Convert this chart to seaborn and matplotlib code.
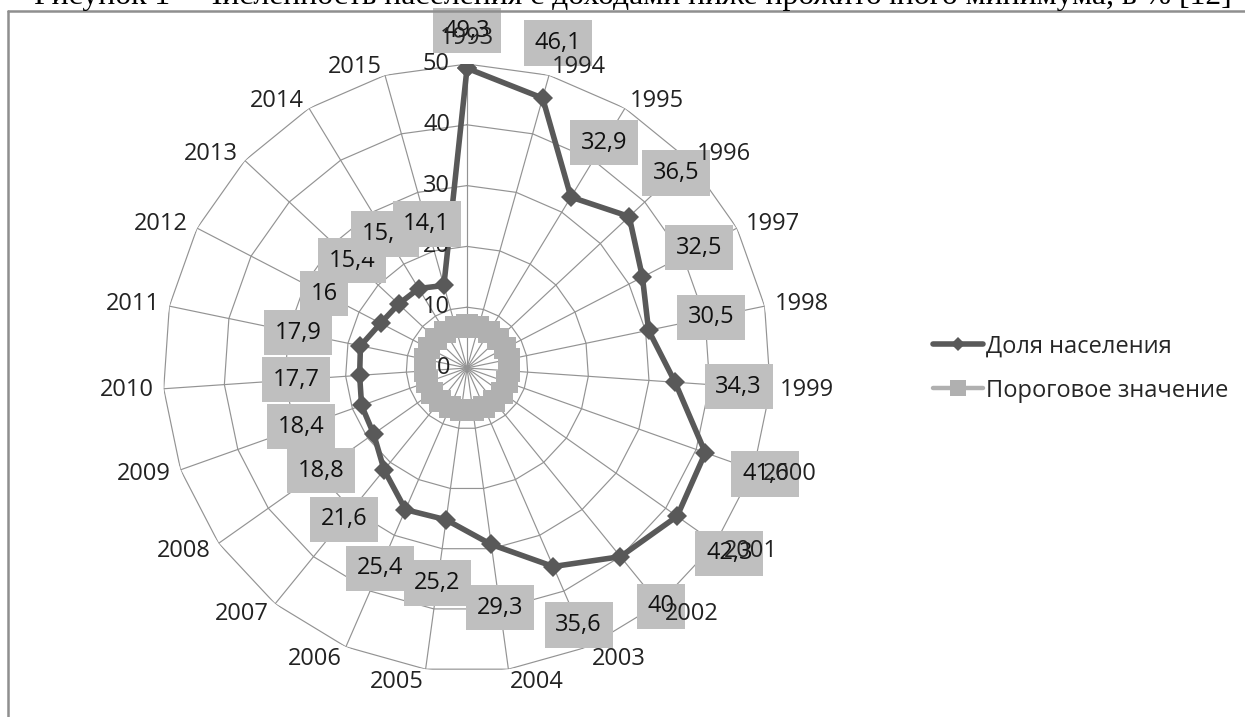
import numpy as np
import pandas as pd
import matplotlib
matplotlib.use("Agg")
import matplotlib.pyplot as plt
import seaborn as sns
from matplotlib.lines import Line2D

# ---------------- data ----------------
years = ["1993", "1994", "1995", "1996", "1997", "1998", "1999", "2000", "2001",
         "2002", "2003", "2004", "2005", "2006", "2007", "2008", "2009", "2010",
         "2011", "2012", "2013", "2014", "2015"]
share = [49.3, 46.1, 32.9, 36.5, 32.5, 30.5, 34.3, 41.6, 42.3, 40.0, 35.6, 29.3,
         25.2, 25.4, 21.6, 18.8, 18.4, 17.7, 17.9, 16.0, 15.4, 15.3, 14.1]
threshold = [7, 7, 7, 7, 7, 7, 7, 7, 7, 7, 7, 7, 7, 7, 7, 7, 7, 7, 7, 7, 7, 7, 7]
radial_ticks = [0, 10, 20, 30, 40, 50]
series_names = ["Доля населения", "Пороговое значение"]
caption = "Рисунок 1 – Численность населения с доходами ниже прожиточного минимума, в % [12]"

# ---------------- style ----------------
sns.set_theme(style="white")
plt.rcParams["font.family"] = ["Open Sans", "DejaVu Sans"]
FS = 17
GRID = "#939393"
DARK = "#595959"
LIGHT = "#b0b0b0"
BOX = "#bfbfbf"

W, H, DPI = 1245, 717, 100
fig = plt.figure(figsize=(W / DPI, H / DPI), dpi=DPI)
fig.patch.set_facecolor("white")

cx, cy, R = 467, 368, 304
ax = fig.add_axes([(cx - R) / W, (H - cy - R) / H, 2 * R / W, 2 * R / H],
                  projection="polar")
ax.set_theta_zero_location("N")
ax.set_theta_direction(-1)
ax.set_ylim(0, 50)
ax.grid(False)
ax.set_xticks([])
ax.set_yticks([])
ax.spines["polar"].set_visible(False)
ax.patch.set_alpha(0)

n = len(years)
theta = np.arange(n) * 2 * np.pi / n
theta_c = np.append(theta, 2 * np.pi)

# grid polygons and spokes
for r in radial_ticks[1:]:
    ax.plot(theta_c, [r] * (n + 1), color=GRID, lw=0.85, zorder=1)
for t in theta:
    ax.plot([t, t], [0, radial_ticks[-1]], color=GRID, lw=0.85, zorder=1)

# series
df_thr = pd.DataFrame({"theta": theta_c, "value": threshold + threshold[:1]})
df_main = pd.DataFrame({"theta": theta_c, "value": share + share[:1]})
sns.lineplot(data=df_thr, x="theta", y="value", ax=ax, sort=False, estimator=None,
             color=LIGHT, lw=3.2, marker="s", markersize=16, markeredgewidth=0,
             label=series_names[1], zorder=3)
sns.lineplot(data=df_main, x="theta", y="value", ax=ax, sort=False, estimator=None,
             color=DARK, lw=4.0, marker="D", markersize=10, markeredgewidth=0,
             label=series_names[0], zorder=4)
ax.set_xlabel("")
ax.set_ylabel("")
ax.set_ylim(0, 50)
handles, labels = ax.get_legend_handles_labels()
if ax.get_legend() is not None:
    ax.get_legend().remove()

# radial tick labels
for r in radial_ticks:
    ax.annotate(str(r), xy=(0, r), xytext=(-17, 0), textcoords="offset pixels",
                ha="right", va="center", fontsize=FS, color="#222222", zorder=6,
                annotation_clip=False)

def fmt(v):
    return f"{v:g}".replace(".", ",")

# data labels
for t, v in zip(theta, share):
    rl = min(v + 10.5, 55.5)
    ax.text(t, rl, fmt(v), ha="center", va="center", fontsize=FS, color="#111111",
            zorder=7, clip_on=False,
            bbox=dict(boxstyle="square,pad=0.45", fc=BOX, ec="none"))

# category labels
for t, y in zip(theta, years):
    s, c = np.sin(t), np.cos(t)
    ha = "left" if s > 0.05 else ("right" if s < -0.05 else "center")
    dx = 10 * s
    if ha == "center" and c > 0:
        dy = 26
    elif c > 0:
        dy = 9 * c
    else:
        dy = 13 * c
    ax.annotate(y, xy=(t, 50), xytext=(dx, dy), textcoords="offset pixels",
                ha=ha, va="center", fontsize=FS, color="#222222", zorder=8,
                annotation_clip=False)

# legend
fig.legend([handles[labels.index(series_names[0])], handles[labels.index(series_names[1])]],
           series_names, loc="center left",
           bbox_to_anchor=(933 / W, 1 - 368.5 / H), frameon=False, fontsize=FS,
           handlelength=2.1, handletextpad=0.15, labelspacing=0.85,
           borderpad=0, borderaxespad=0, markerscale=0.7)

# frame lines
fig.add_artist(Line2D([7.5 / W, 1.0], [1 - 11 / H, 1 - 11 / H], color="#8f8f8f",
                      lw=1.8, transform=fig.transFigure))
fig.add_artist(Line2D([7.5 / W, 7.5 / W], [0, 1 - 11 / H], color="#8f8f8f",
                      lw=1.8, transform=fig.transFigure))

# cut-off caption at top
cap = fig.text(34 / W, 1 - 4 / H, caption, ha="left", va="baseline",
               fontsize=20, family=["Liberation Serif", "DejaVu Serif"], color="black")
fig.canvas.draw()
wext = cap.get_window_extent().width
cap.set_fontsize(20 * 1200 / wext)

fig.savefig("out.png", dpi=DPI, facecolor="white")
